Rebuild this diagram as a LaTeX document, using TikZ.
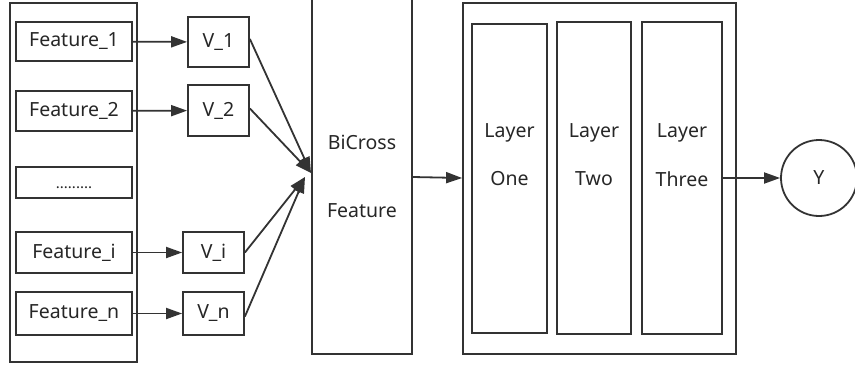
\documentclass[tikz,border=0pt]{standalone}
\usepackage{fontspec}
\setmainfont{Noto Sans}
\usetikzlibrary{arrows.meta}
\begin{document}
\begin{tikzpicture}[x=1pt,y=-1pt,
  every node/.style={font=\fontsize{19.5}{22}\selectfont, text=black!85},
  box/.style={draw=black!80, line width=1.8pt, inner sep=0pt, minimum width=#1},
  link/.style={draw=black!80, line width=1.8pt, -{Triangle[length=16pt,width=11pt]}}
]
\useasboundingbox (0,0) rectangle (855,368);

% input feature column
\node[box=127, minimum height=359] (cols) at (73.5,182.5) {};
\node[box=116, minimum height=39] (f1) at (74,41.5) {Feature\_1};
\node[box=116, minimum height=40] (f2) at (74,111) {Feature\_2};
\node[box=116, minimum height=31] (fd) at (74,182.5) {};
\node[font=\fontsize{15}{16}\selectfont] (dots) at (74,188) {.........};
\node[box=116, minimum height=41] (fi) at (74,252.5) {Feature\_i};
\node[box=116, minimum height=43] (fn) at (74,313.5) {Feature\_n};

% embedding vectors
\node[box=61, minimum height=50] (v1) at (218.5,42) {V\_1};
\node[box=61, minimum height=51] (v2) at (218.5,110.5) {V\_2};
\node[box=61, minimum height=41] (vi) at (213.5,252.5) {V\_i};
\node[box=61, minimum height=43] (vn) at (213.5,313.5) {V\_n};

\draw[link] (f1) -- (v1);
\draw[link] (f2) -- (v2);
\draw[link] (f1.east |- fi) -- (vi);
\draw[link] (fn) -- (vn);

% cross-feature block (top edge runs off the page)
\node[box=100, minimum height=357] (bc) at (362,175.5) {};
\node (bct) at (362,142) {BiCross};
\node (bcb) at (362,211) {Feature};

\coordinate (jt) at (311,173);
\coordinate (jb) at (305,177);
\draw[link] ([yshift=3pt]v1.east) -- (jt);
\draw[link] ([yshift=2pt]v2.east) -- (jt);
\draw[link] (vi.east) -- (jb);
\draw[link] ([yshift=-3pt]vn.east) -- (jb);

% hidden layers
\node[box=273, minimum height=351] (net) at (599.5,178.5) {};
\node[box=75, minimum height=309] (l1) at (509.5,178.5) {};
\node[box=74, minimum height=312] (l2) at (594,178) {};
\node[box=80, minimum height=312] (l3) at (682,178) {};
\node (l1a) at (509.5,133) {Layer};
\node (l1b) at (509.5,179) {One};
\node (l2a) at (594,133) {Layer};
\node (l2b) at (594,179) {Two};
\node (l3a) at (682,133) {Layer};
\node (l3b) at (682,179) {Three};

\draw[link] (bc.east |- 0,177) -- (net.west |- 0,178);

% output
\node[draw=black!80, line width=1.8pt, circle, minimum size=76, inner sep=0pt] (y) at (819,178) {Y};
\draw[link] (l3.east |- y) -- (y);
\end{tikzpicture}
\end{document}
